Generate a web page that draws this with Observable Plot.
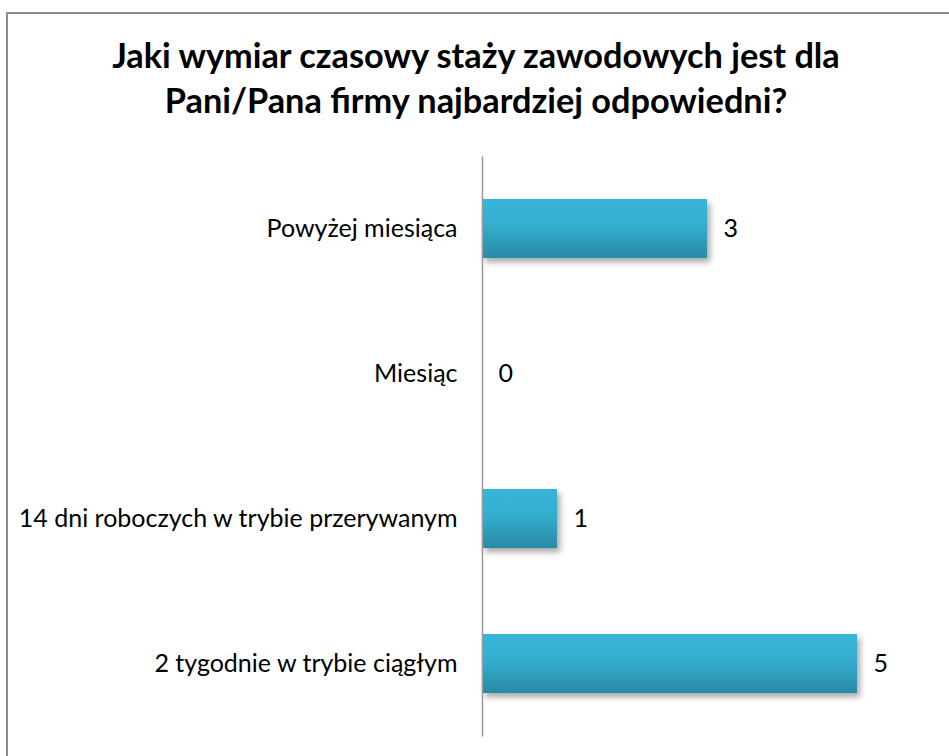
<!DOCTYPE html>
<html>
<head>
<meta charset="utf-8">
<script src="https://cdn.jsdelivr.net/npm/d3@7"></script>
<script src="https://cdn.jsdelivr.net/npm/@observablehq/plot@0.6"></script>
<style>
  html, body { margin: 0; padding: 0; background: #fff; }
  body { width: 949px; height: 756px; overflow: hidden; position: relative; font-family: Lato, "Open Sans", sans-serif; }
  #frame { position: absolute; left: 6px; top: 12px; width: 1000px; height: 800px; border: 2px solid #8c8c8c; box-sizing: border-box; }
  #title { position: absolute; left: 0; top: 0; width: 952px; height: 150px; text-align: center; font-weight: bold; font-size: 34.3px; color: #000; }
  #title div { position: absolute; width: 100%; line-height: 40px; }
  #chart { position: absolute; left: 0; top: 150px; }
</style>
</head>
<body>
<div id="frame"></div>
<div id="title"><div id="t1" style="top:35px"></div><div id="t2" style="top:80px"></div></div>
<div id="chart"></div>
<script>
const titleLines = ["Jaki wymiar czasowy staży zawodowych jest dla", "Pani/Pana firmy najbardziej odpowiedni?"];
const categories = ["Powyżej miesiąca", "Miesiąc", "14 dni roboczych w trybie przerywanym", "2 tygodnie w trybie ciągłym"];
const values = [3, 0, 1, 5];

document.getElementById("t1").textContent = titleLines[0];
document.getElementById("t2").textContent = titleLines[1];

const data = categories.map((c, i) => ({category: c, value: values[i]}));

const plot = Plot.plot({
  width: 949,
  height: 606,
  marginLeft: 482,
  marginRight: 92,
  marginTop: 6.5,
  marginBottom: 19.5,
  style: {fontFamily: "Lato, 'Open Sans', sans-serif", fontSize: "25px", color: "#000", background: "transparent", overflow: "visible"},
  x: {domain: [0, 5], axis: null},
  y: {domain: categories, paddingInner: 0.593, paddingOuter: 0.2965, align: 0.5, label: null, tickSize: 0, tickPadding: 25},
  marks: [
    Plot.barX(data, {x: "value", y: "category", fill: "url(#barGrad)", className: "bars"}),
    Plot.ruleX([0], {stroke: "#999", strokeWidth: 1.5}),
    Plot.text(data, {x: "value", y: "category", text: d => String(d.value), textAnchor: "start", dx: 16, fontSize: 25, fill: "#000"})
  ]
});

const svg = d3.select(plot);
const defs = svg.insert("defs", ":first-child");
const g = defs.append("linearGradient").attr("id", "barGrad").attr("x1", 0).attr("y1", 0).attr("x2", 0).attr("y2", 1);
g.append("stop").attr("offset", "0%").attr("stop-color", "#37b5d8");
g.append("stop").attr("offset", "45%").attr("stop-color", "#33aecf");
g.append("stop").attr("offset", "100%").attr("stop-color", "#2a8aa5");
svg.selectAll(".bars rect").style("filter", "drop-shadow(3px 4px 3px rgba(0,0,0,0.35))");
svg.selectAll("[aria-label='y-axis tick label'] text").attr("fill", "#000").attr("font-size", 25);

document.getElementById("chart").appendChild(plot);
</script>
</body>
</html>
